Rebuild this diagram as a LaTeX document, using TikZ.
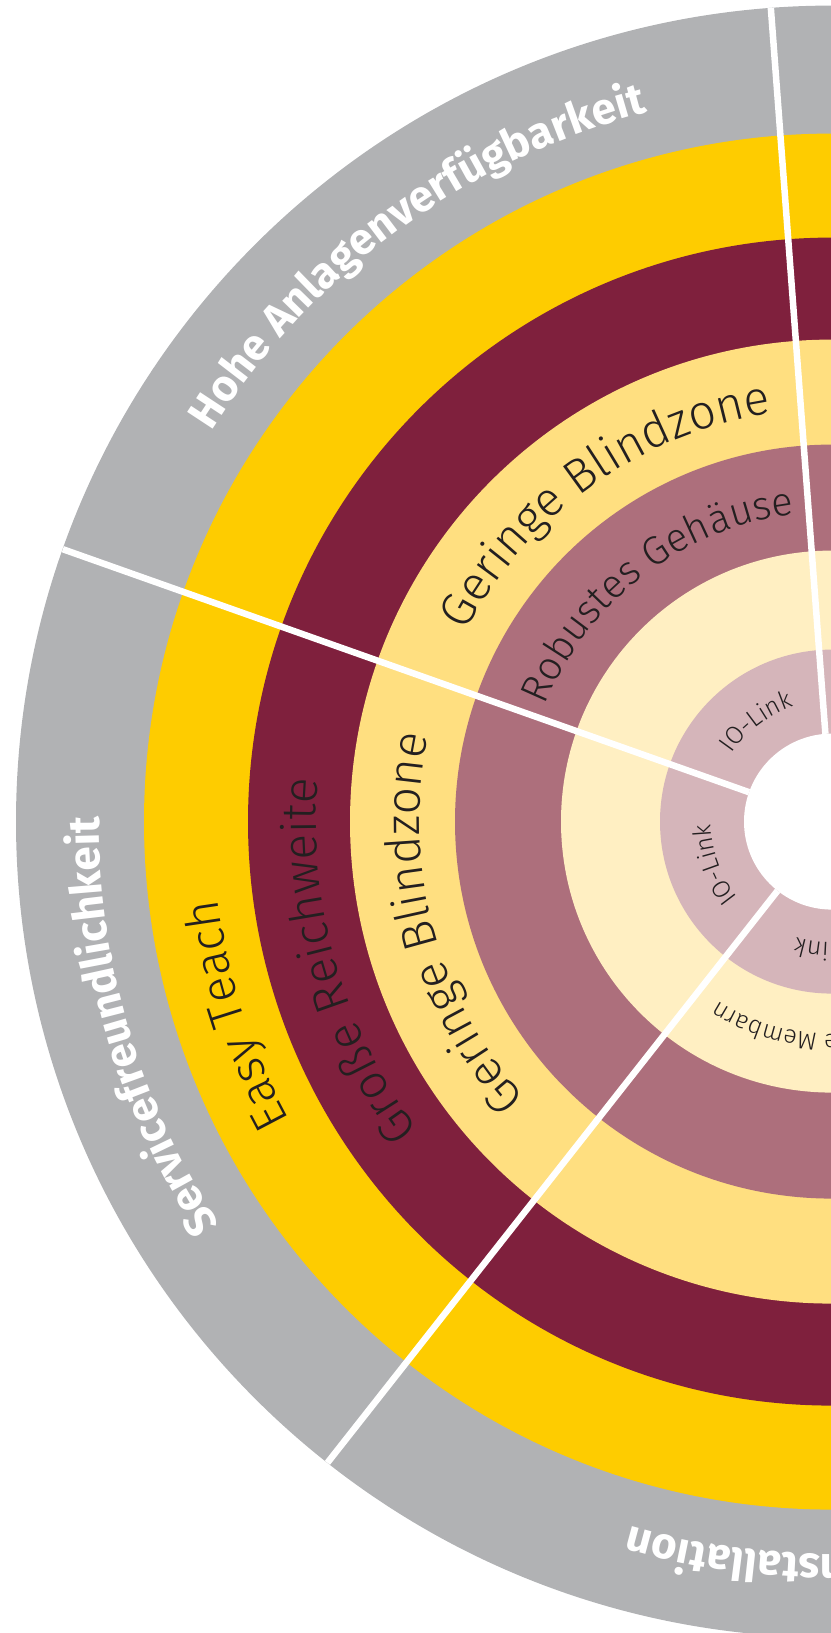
\documentclass[tikz,border=0pt]{standalone}
\usepackage{fontspec}
\newfontfamily\lightfont{Fira Sans Light}
\newfontfamily\headfont{Fira Sans}
\usetikzlibrary{calc,decorations.text}
\definecolor{ringgray}{RGB}{177,178,180}
\definecolor{ringyellow}{RGB}{254,204,0}
\definecolor{ringmaroon}{RGB}{127,32,61}
\definecolor{ringlight}{RGB}{255,223,128}
\definecolor{ringmauve}{RGB}{173,111,124}
\definecolor{ringcream}{RGB}{255,239,194}
\definecolor{ringpink}{RGB}{213,181,186}
\definecolor{labelink}{RGB}{35,31,32}
\def\arctext[#1](#2:#3:#4)#5{\path[decorate,decoration={text along path,text={#5},#1}] ($(C)+(#2:#4)$) arc (#2:#3:#4);}
\def\headsize{\headfont\bfseries\fontsize{44}{44}\selectfont}
\def\bigsize{\lightfont\fontsize{48}{48}\selectfont}
\def\midsize{\lightfont\fontsize{40}{40}\selectfont}
\def\smallsize{\lightfont\fontsize{25}{25}\selectfont}

\begin{document}
\begin{tikzpicture}[x=1pt,y=1pt,
		separator/.style={white,line width=6.5pt},
		]
		%%%%% START %%%%%
		\useasboundingbox (0,0) rectangle (830,1633);
		\coordinate (C) at (832,811.4);
		
		\fill[ringgray] (C) circle (816pt);
		\fill[ringyellow] (C) circle (688pt);
		\fill[ringmaroon] (C) circle (584pt);
		\fill[ringlight] (C) circle (482pt);
		\fill[ringmauve] (C) circle (377pt);
		\fill[ringcream] (C) circle (271pt);
		\fill[ringpink] (C) circle (172pt);
		\fill[white] (C) circle (88pt);
		
		\draw[separator] ($(C)+(94.3:88pt)$) -- ($(C)+(94.3:816pt)$);
		\draw[separator] ($(C)+(160.5:88pt)$) -- ($(C)+(160.5:816pt)$);
		\draw[separator] ($(C)+(231.8:88pt)$) -- ($(C)+(231.8:816pt)$);
		
		% outer ring
		\arctext[text color=white,text align=center](166.2:86.2:733pt){|\headsize|Hohe Anlagenverfügbarkeit}
		\arctext[text color=white,text align=center](236.5:156.5:733pt){|\headsize|Servicefreundlichkeit}
		\arctext[text color=white,text align=right](300:254:733pt){|\headsize|nstallation}
		
		% top left
		\arctext[text color=labelink,text align=center](165.5:85.5:412.5pt){|\bigsize|Geringe Blindzone}
		\arctext[text color=labelink,text align=center](167.5:87.5:309.6pt){|\midsize|Robustes Gehäuse}
		\arctext[text color=labelink,text align=center](167:87:121pt){|\smallsize|IO-Link}
		
		% left
		\arctext[text color=labelink,text align=center](238:158:619pt){|\bigsize|Easy Teach}
		\arctext[text color=labelink,text align=center](236:156:516pt){|\bigsize|Große Reichweite}
		\arctext[text color=labelink,text align=center](235:155:412.5pt){|\bigsize|Geringe Blindzone}
		\arctext[text color=labelink,text align=center](240:160:121pt){|\smallsize|IO-Link}
		
		% bottom
		\arctext[text color=labelink,text align=right](300:237.5:212.5pt){|\smallsize|e Membarn}
		\arctext[text color=labelink,text align=right](300:252.8:121pt){|\smallsize|ink}
		%%%%% END %%%%%
	\end{tikzpicture}
\end{document}
